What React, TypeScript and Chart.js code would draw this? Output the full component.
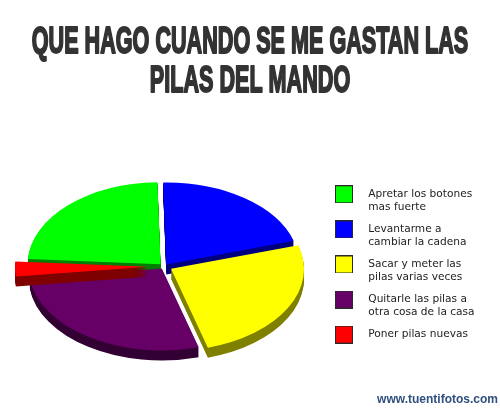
import React, { useEffect, useRef } from "react";
import { Chart, registerables } from "chart.js";

Chart.register(...registerables);

const categories: string[][] = [
  ["Apretar los botones", "mas fuerte"],
  ["Levantarme a", "cambiar la cadena"],
  ["Sacar y meter las", "pilas varias veces"],
  ["Quitarle las pilas a", "otra cosa de la casa"],
  ["Poner pilas nuevas"],
];
const values = [23.6, 20.7, 25.2, 27.6, 2.9];
const topColors = ["#00ff00", "#0000ff", "#ffff00", "#660066", "#ff0000"];
const sideColors = ["#007f00", "#00007f", "#808000", "#330033", "#7f0000"];
const explode = [5, 4, 8, 4, 16];
const titleLines = ["QUE HAGO CUANDO SE ME GASTAN LAS", "PILAS DEL MANDO"];
const watermark = "www.tuentifotos.com";

const PIE = { cx: 164, cy: 266.5, rx: 133, ry: 82, depth: 10 };
const TITLE_SQUEEZE = 0.6;

function swatch(color: string) {
  const c = document.createElement("canvas");
  c.width = 18;
  c.height = 18;
  const g = c.getContext("2d")!;
  g.fillStyle = color;
  g.fillRect(0, 0, 18, 18);
  g.strokeStyle = "#2a2a2a";
  g.lineWidth = 1;
  g.strokeRect(0.5, 0.5, 17, 17);
  return c;
}

const tiltedPie = {
  id: "tiltedPie",
  afterLayout(chart: any) {
    const lg = chart.legend;
    const w = lg.right - lg.left;
    lg.left = 325 - lg.options.labels.padding;
    lg.right = lg.left + w;
    const h = lg.bottom - lg.top;
    lg.top = 180;
    lg.bottom = lg.top + h;
  },
  beforeDatasetsDraw(chart: any) {
    const ctx: CanvasRenderingContext2D = chart.ctx;
    const arcs = chart.getDatasetMeta(0).data;
    arcs.forEach((arc: any, i: number) => {
      const mid = (arc.startAngle + arc.endAngle) / 2;
      const base = arc.options;
      const k = PIE.rx / arc.outerRadius;
      const q = PIE.ry / arc.outerRadius;
      for (let d = PIE.depth; d >= 0; d--) {
        ctx.save();
        ctx.translate(PIE.cx, PIE.cy + d);
        ctx.scale(k, q);
        ctx.translate(
          Math.cos(mid) * explode[i] / k,
          Math.sin(mid) * explode[i] / k
        );
        ctx.translate(-arc.x, -arc.y);
        arc.options = Object.assign(Object.create(base), {
          backgroundColor: d === 0 ? topColors[i] : sideColors[i],
          borderWidth: 0,
          offset: 0,
        });
        arc.draw(ctx);
        arc.options = base;
        ctx.restore();
      }
    });
    return false;
  },
};

const heavyTitle = {
  id: "heavyTitle",
  afterDraw(chart: any) {
    const t = chart.titleBlock;
    const o = t.options;
    const ctx: CanvasRenderingContext2D = chart.ctx;
    const lh = o.font.size * o.font.lineHeight;
    ctx.save();
    ctx.font = `900 ${o.font.size}px ${o.font.family}`;
    ctx.textAlign = "center";
    ctx.textBaseline = "middle";
    ctx.strokeStyle = "#333333";
    ctx.fillStyle = "#333333";
    ctx.lineWidth = 2;
    ctx.lineJoin = "round";
    titleLines.forEach((line, i) => {
      ctx.save();
      ctx.translate(chart.width / 2, t.top + t._padding.top + lh * (i + 0.5));
      ctx.scale(TITLE_SQUEEZE, 1);
      ctx.fillText(line, 0, 0);
      ctx.strokeText(line, 0, 0);
      ctx.restore();
    });
    ctx.restore();
  },
};

export default function App() {
  const ref = useRef<HTMLCanvasElement>(null);
  useEffect(() => {
    const chart = new Chart(ref.current!, {
      type: "pie",
      data: {
        labels: categories as any,
        datasets: [{ data: values, backgroundColor: topColors, borderWidth: 0 }],
      },
      options: {
        responsive: false,
        animation: false,
        rotation: -86.3,
        devicePixelRatio: 1,
        layout: { padding: { right: 2 } },
        plugins: {
          tooltip: { enabled: false },
          title: {
            display: true,
            text: titleLines,
            color: "rgba(0,0,0,0)",
            font: { family: '"Liberation Sans"', size: 36, weight: "bold", lineHeight: 1.1 },
            padding: { top: 23, bottom: 40 },
          },
          subtitle: {
            display: true,
            text: watermark,
            position: "bottom",
            align: "end",
            color: "#2f4f7f",
            font: { family: '"Liberation Sans"', size: 12, weight: "bold" },
            padding: { top: 0, bottom: 3 },
          },
          legend: {
            position: "right",
            align: "start",
            fullSize: false,
            labels: {
              usePointStyle: true,
              pointStyleWidth: 38,
              padding: 9,
              color: "#222222",
              font: { family: '"DejaVu Sans"', size: 10.6, lineHeight: 1.23 },
              generateLabels: () =>
                categories.map((text, i) => ({
                  text: text as any,
                  pointStyle: swatch(topColors[i]) as any,
                  hidden: false,
                  index: i,
                  fontColor: "#222222",
                })),
            },
          },
        },
      },
      plugins: [tiltedPie, heavyTitle],
    } as any);
    return () => chart.destroy();
  }, []);
  return (
    <canvas
      ref={ref}
      width={500}
      height={410}
      style={{ position: "absolute", left: 0, top: 0, display: "block" }}
    />
  );
}
